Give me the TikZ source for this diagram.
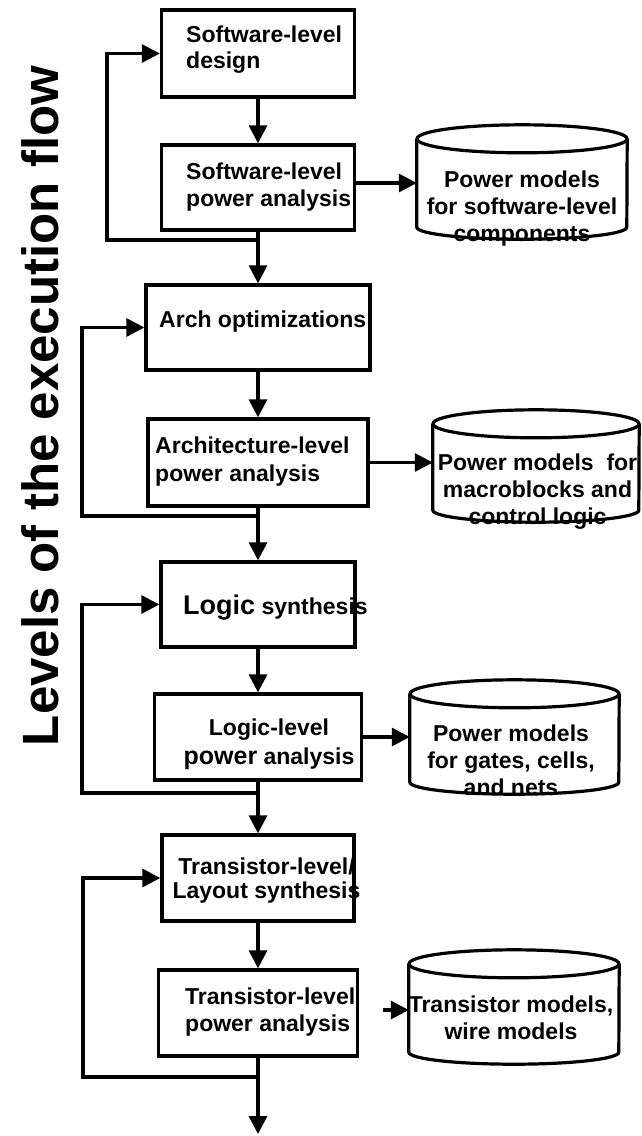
\documentclass[tikz,border=0pt]{standalone}
\usepackage{fontspec}
\setmainfont{Liberation Sans}
\usetikzlibrary{arrows.meta}

\begin{document}
\begin{tikzpicture}[x=1pt,y=-1pt,
    lbl/.style={inner sep=0pt, font=\fontsize{23}{27}\selectfont\bfseries},
    stage/.style={draw, line width=3.3pt, minimum width=193pt, minimum height=86pt},
    dbase/.style={inner sep=0pt, minimum width=210pt, minimum height=88pt},
    dbline/.style={line width=3.2pt},
    arr/.style={line width=3.2pt, -{Triangle[length=18pt,width=18pt]}}]

    \useasboundingbox (0,0) rectangle (642,1136);

    \node[lbl, font=\fontsize{51}{51}\selectfont\bfseries, rotate=90, anchor=base] (title) at (58,406) {Levels of the execution flow};

    % texts first, outlines go over them
    \node[lbl, anchor=north west, align=left] (sw1-t) at (186,26) {Software-level\\[-1pt]design};
    \node[lbl, anchor=north west, align=left] (sw2-t) at (186,163) {Software-level\\power analysis};
    \node[lbl, anchor=base west] (arch-t) at (159,327) {Arch optimizations};
    \node[lbl, anchor=north west, align=left] (archpa-t) at (155,437) {Architecture-level\\[1pt]power analysis};
    \node[lbl, anchor=base west] (logic-t) at (183,614) {{\fontsize{27}{27}\selectfont Logic} synthesis};
    \node[lbl, anchor=north, align=center] (logicpa-t) at (269,719) {Logic-level\\[2pt]{\fontsize{25}{25}\selectfont power} analysis};
    \node[lbl, anchor=north, align=center] (tsyn-t) at (266.5,858) {Transistor-level/\\[-3pt]Layout synthesis};
    \node[lbl, anchor=north west, align=left] (tpa-t) at (185,988) {Transistor-level\\power analysis};

    \node[lbl, anchor=north, align=center] (pm1-t) at (522,171) {Power models\\for software-level\\components};
    \node[lbl, anchor=north, align=center] (pm2-t) at (537.5,454) {Power models\ \ for\\macroblocks and\\control logic};
    \node[lbl, anchor=north, align=center] (pm3-t) at (511,725) {Power models\\for gates, cells,\\and nets};
    \node[lbl, anchor=north, align=center] (pm4-t) at (511,996) {Transistor models,\\wire models};

    % boxes
    \node[stage, minimum height=87pt] (sw1) at (258,53.5) {};
    \node[stage, minimum height=85pt] (sw2) at (258,187.5) {};
    \node[stage, minimum width=224pt, minimum height=85pt] (arch) at (258,327.5) {};
    \node[stage, minimum width=220pt, minimum height=87pt] (archpa) at (258,462.5) {};
    \node[stage, minimum width=194pt, minimum height=85pt] (logic) at (258,604.5) {};
    \node[stage, minimum width=207pt] (logicpa) at (258,737) {};
    \node[stage, minimum width=192pt] (tsyn) at (258,878) {};
    \node[stage, minimum width=199pt] (tpa) at (258,1013) {};

    % databases
    \node[dbase] (pm1) at (522,183) {};
    \node[dbase, minimum width=206pt, minimum height=86pt] (pm2) at (536,467) {};
    \node[dbase, minimum width=209pt] (pm3) at (514.5,738) {};
    \node[dbase] (pm4) at (514,1008) {};
    \foreach \d/\r in {pm1/105, pm2/103, pm3/104.5, pm4/105} {
        \draw[dbline] (\d.north west) -- (\d.south west)
            arc[start angle=180, end angle=0, x radius=\r, y radius=12] -- (\d.north east);
        \draw[dbline] (\d.north) ellipse[x radius=\r, y radius=14];
    }

    \coordinate (j1) at (258,240);
    \coordinate (l1) at (107,240);
    \coordinate (j2) at (258,516);
    \coordinate (l2) at (82,516);
    \coordinate (j3) at (258,793);
    \coordinate (l3) at (82,793);
    \coordinate (j4) at (258,1077);
    \coordinate (l4) at (83,1077);
    \coordinate (out) at (258,1134);
    \coordinate (t-out) at (383,1010);

    \draw[arr] (sw1) -- (sw2);
    \draw[arr] (sw2) -- (arch);
    \draw[arr] (arch) -- (archpa);
    \draw[arr] (archpa) -- (logic);
    \draw[arr] (logic) -- (logicpa);
    \draw[arr] (logicpa) -- (tsyn);
    \draw[arr] (tsyn) -- (tpa);
    \draw[arr] (tpa) -- (out);

    \draw[arr] (j1) -- (l1) |- (sw1.west);
    \draw[arr] (j2) -- (l2) |- (arch.west);
    \draw[arr] (j3) -- (l3) |- (logic.west);
    \draw[arr] (j4) -- (l4) |- (tsyn.west);

    \draw[arr] (sw2.east |- pm1) -- (pm1.west);
    \draw[arr] (archpa) -- (archpa -| pm2.west);
    \draw[arr] (logicpa.east) -- (logicpa.east -| pm3.west);
    \draw[arr] (t-out) -- (t-out -| pm4.west);

\end{tikzpicture}
\end{document}
